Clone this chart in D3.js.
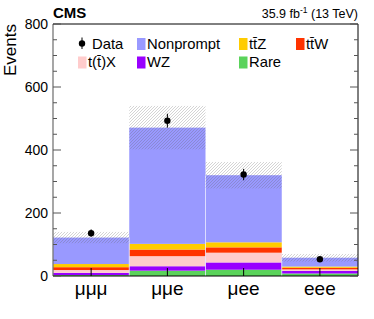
<!DOCTYPE html>
<html>
<head>
<meta charset="utf-8">
<script src="https://cdn.jsdelivr.net/npm/d3@7"></script>
<style>
  body { margin: 0; background: #fff; }
  text { font-family: "Liberation Sans", Arial, sans-serif; }
</style>
</head>
<body>
<svg id="chart" width="374" height="319"></svg>
<script>
// channels and stacked backgrounds (bottom to top)
var bins = ["μμμ", "μμe", "μee", "eee"];
var rare = [3, 17, 20, 8];
var wz = [7, 14, 23, 8];
var ttx = [9, 32, 31, 5];
var ttw = [9, 21, 17, 5];
var ttz = [10, 18, 16, 4];
var nonprompt = [84, 369, 213, 28];
var bkgUnc = [18, 69, 42, 12];
var data = [136, 493, 322, 53];
var dataErr = [12, 22, 18, 7];
var yTicks = [0, 200, 400, 600, 800];

var svg = d3.select("#chart"),
  pl = 53, pr = 358, pt = 24, pb = 276;

var x = d3.scaleLinear().domain([0, bins.length]).range([pl, pr]);
var y = d3.scaleLinear().domain([0, 800]).range([pb, pt]);

var procs = [
  { name: "Rare", vals: rare, color: "#5ad35a" },
  { name: "WZ", vals: wz, color: "#9900ff" },
  { name: "t(t̄)X", vals: ttx, color: "#ffcccc" },
  { name: "tt̄W", vals: ttw, color: "#ff3300" },
  { name: "tt̄Z", vals: ttz, color: "#ffcc00" },
  { name: "Nonprompt", vals: nonprompt, color: "#9999ff" }
];

var rows = bins.map(function(b, i) {
  var r = { i: i };
  procs.forEach(function(p) { r[p.name] = p.vals[i]; });
  return r;
});
var stack = d3.stack().keys(procs.map(function(p) { return p.name; }))(rows);

var defs = svg.append("defs");
defs.append("pattern")
  .attr("id", "hatch")
  .attr("patternUnits", "userSpaceOnUse")
  .attr("width", 3).attr("height", 3)
  .append("path")
  .attr("d", "M-1,1 l2,-2 M0,3 l3,-3 M2,4 l2,-2")
  .attr("stroke", "#666")
  .attr("stroke-opacity", 0.4)
  .attr("stroke-width", 0.7);

// stacked histogram
var g = svg.append("g");
stack.forEach(function(layer, k) {
  g.selectAll(null)
    .data(layer)
    .enter().append("rect")
    .attr("x", function(d) { return x(d.data.i); })
    .attr("width", x(1) - x(0))
    .attr("y", function(d) { return y(d[1]); })
    .attr("height", function(d) { return y(d[0]) - y(d[1]); })
    .attr("fill", procs[k].color);
});

// bin separators (light)
g.selectAll(null)
  .data(d3.range(1, bins.length))
  .enter().append("line")
  .attr("x1", function(d) { return x(d); })
  .attr("x2", function(d) { return x(d); })
  .attr("y1", function(d) { return y(Math.min(stack[5][d - 1][1], stack[5][d][1])); })
  .attr("y2", pb)
  .attr("stroke", "#e6e6ff")
  .attr("stroke-width", 0.8);

// uncertainty band
var totals = stack[stack.length - 1].map(function(d) { return d[1]; });
g.selectAll(null)
  .data(totals)
  .enter().append("rect")
  .attr("x", function(d, i) { return x(i); })
  .attr("width", x(1) - x(0))
  .attr("y", function(d, i) { return y(d + bkgUnc[i]); })
  .attr("height", function(d, i) { return y(d - bkgUnc[i]) - y(d + bkgUnc[i]); })
  .attr("fill", "url(#hatch)");

// data points
var pts = svg.append("g");
pts.selectAll(null)
  .data(data)
  .enter().append("line")
  .attr("x1", function(d, i) { return x(i + 0.5); })
  .attr("x2", function(d, i) { return x(i + 0.5); })
  .attr("y1", function(d, i) { return y(d + dataErr[i]); })
  .attr("y2", function(d, i) { return y(d - dataErr[i]); })
  .attr("stroke", "#000").attr("stroke-width", 1);
pts.selectAll(null)
  .data(data)
  .enter().append("circle")
  .attr("cx", function(d, i) { return x(i + 0.5); })
  .attr("cy", function(d) { return y(d); })
  .attr("r", 3.2)
  .attr("fill", "#000");

// frame
svg.append("line").attr("x1", pl).attr("x2", pl).attr("y1", pt).attr("y2", pb)
  .attr("stroke", "#777").attr("stroke-width", 1.3);
svg.append("path")
  .attr("d", "M" + pl + "," + pt + "H" + pr + "V" + pb + "H" + pl)
  .attr("fill", "none").attr("stroke", "#000").attr("stroke-width", 1);

// y ticks
var minor = d3.range(0, 801, 50);
svg.selectAll(null).data(minor).enter().append("path")
  .attr("d", function(d) {
    var len = d % 200 === 0 ? 8 : 4;
    return "M" + pl + "," + y(d) + "h" + len + "M" + pr + "," + y(d) + "h" + (-len);
  })
  .attr("stroke", "#555").attr("stroke-width", 1);

var yAxis = svg.append("g").attr("transform", "translate(" + pl + ",0)")
  .call(d3.axisLeft(y).tickValues(yTicks).tickSize(0).tickPadding(5));
yAxis.select(".domain").remove();
yAxis.selectAll("text").attr("font-size", 14).attr("fill", "#000")
  .attr("font-family", "Liberation Sans, Arial, sans-serif");

// x ticks and labels
svg.selectAll(null).data(bins).enter().append("line")
  .attr("x1", function(d, i) { return x(i + 0.5); })
  .attr("x2", function(d, i) { return x(i + 0.5); })
  .attr("y1", pb).attr("y2", pb - 8)
  .attr("stroke", "#000").attr("stroke-width", 1);
svg.selectAll(null).data(bins).enter().append("text")
  .attr("x", function(d, i) { return x(i + 0.5); })
  .attr("y", 295)
  .attr("text-anchor", "middle")
  .attr("font-size", 19)
  .text(function(d) { return d; });

// axis title
svg.append("text")
  .attr("transform", "translate(15.5," + pt + ") rotate(-90)")
  .attr("text-anchor", "end")
  .attr("font-size", 17)
  .text("Events");

// header
svg.append("text").attr("x", pl).attr("y", 17.5)
  .attr("font-size", 15).attr("font-weight", "bold").text("CMS");
var lumi = svg.append("text").attr("x", pr).attr("y", 17.5)
  .attr("text-anchor", "end").attr("font-size", 12.5);
lumi.append("tspan").text("35.9 fb");
lumi.append("tspan").attr("dy", -5).attr("font-size", 8.5).text("-1");
lumi.append("tspan").attr("dy", 5).text(" (13 TeV)");

// legend
var legend = [
  { name: "Nonprompt", color: "#9999ff", x: 137, y: 48.5 },
  { name: "tt̄Z", color: "#ffcc00", x: 239, y: 48.5 },
  { name: "tt̄W", color: "#ff3300", x: 296, y: 48.5 },
  { name: "t(t̄)X", color: "#ffcccc", x: 78, y: 67 },
  { name: "WZ", color: "#9900ff", x: 137, y: 67 },
  { name: "Rare", color: "#5ad35a", x: 239, y: 67 }
];
var lg = svg.append("g");
lg.selectAll(null).data(legend).enter().append("rect")
  .attr("x", function(d) { return d.x; })
  .attr("y", function(d) { return d.y - 10.5; })
  .attr("width", 8.5).attr("height", 12)
  .attr("fill", function(d) { return d.color; });
lg.selectAll(null).data(legend).enter().append("text")
  .attr("x", function(d) { return d.x + 10; })
  .attr("y", function(d) { return d.y; })
  .attr("font-size", 14.8)
  .text(function(d) { return d.name; });
lg.append("line").attr("x1", 82).attr("x2", 82).attr("y1", 37.5).attr("y2", 49)
  .attr("stroke", "#000");
lg.append("circle").attr("cx", 82).attr("cy", 43.5).attr("r", 3.2).attr("fill", "#000");
lg.append("text").attr("x", 92).attr("y", 48.5).attr("font-size", 14.8).text("Data");
</script>
</body>
</html>
